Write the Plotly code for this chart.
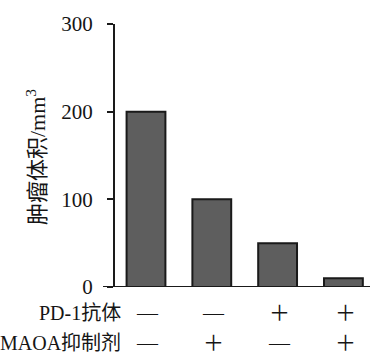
import plotly.graph_objects as go

# Tumour volume for each treatment combination
group_pos = [0, 1, 2, 3]
volume = [200, 100, 50, 10]
pd1_sign = ["—", "—", "＋", "＋"]
maoa_sign = ["—", "＋", "—", "＋"]
row_labels = ["PD-1抗体", "MAOA抑制剂"]
y_ticks = [0, 100, 200, 300]

serif = "Liberation Serif, Noto Sans CJK SC, serif"
ink = "#151515"

fig = go.Figure(
    go.Bar(
        x=group_pos,
        y=volume,
        width=0.59,
        marker=dict(color="#5e5e5e", line=dict(color="#1a1a1a", width=2)),
    )
)

# Treatment matrix under the bars
rows_y = [-0.099, -0.213]
for label, signs, ry in zip(row_labels, [pd1_sign, maoa_sign], rows_y):
    fig.add_annotation(
        text=label, xref="paper", yref="paper", x=0.033, y=ry,
        xanchor="right", yanchor="middle", showarrow=False,
        font=dict(family=serif, size=20, color=ink),
    )
    for xp, s in zip(group_pos, signs):
        fig.add_annotation(
            text=s, xref="x", yref="paper", x=xp + 0.03, y=ry,
            xanchor="center", yanchor="middle", showarrow=False,
            font=dict(family=serif, size=21, color=ink),
        )

# Vertical axis title
fig.add_annotation(
    text="肿瘤体积/mm<sup>3</sup>", xref="paper", yref="paper",
    x=-0.31, y=0.494, textangle=-90, xanchor="center", yanchor="middle",
    showarrow=False, font=dict(family=serif, size=22, color=ink),
)

# Baseline extending slightly left of the vertical axis
fig.add_shape(
    type="line", xref="paper", yref="y", x0=-0.047, x1=1, y0=0, y1=0,
    line=dict(color="#1a1a1a", width=2),
)

fig.update_layout(
    width=370, height=356,
    margin=dict(l=115, r=0, t=24, b=69),
    paper_bgcolor="white", plot_bgcolor="white",
    showlegend=False,
    xaxis=dict(range=[-0.471, 3.404], showticklabels=False, showgrid=False,
               zeroline=False, showline=False, ticks=""),
    yaxis=dict(range=[0, 300], tickvals=y_ticks, showgrid=False, zeroline=False,
               showline=True, linecolor="#1a1a1a", linewidth=2,
               ticks="outside", ticklen=6, tickwidth=1.5, tickcolor="#1a1a1a",
               ticklabelstandoff=10,
               tickfont=dict(family=serif, size=21, color=ink)),
)

fig.write_html("out.html")
